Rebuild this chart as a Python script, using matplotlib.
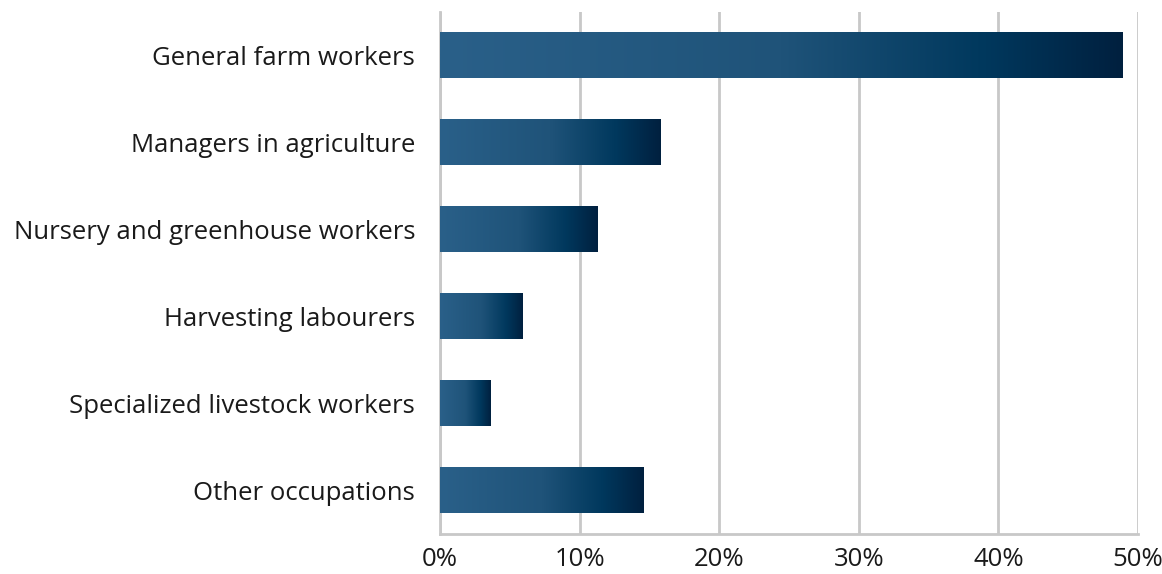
import numpy as np
import matplotlib.pyplot as plt
from matplotlib.colors import LinearSegmentedColormap
from matplotlib.ticker import FuncFormatter

plt.rcParams['font.family'] = ['Open Sans', 'DejaVu Sans']

occupations = ['General farm workers', 'Managers in agriculture',
               'Nursery and greenhouse workers', 'Harvesting labourers',
               'Specialized livestock workers', 'Other occupations']
shares = [48.9, 15.8, 11.3, 5.9, 3.65, 14.6]

cmap = LinearSegmentedColormap.from_list(
    'bar', [(0.0, '#2a6089'), (0.5, '#1f5379'), (0.8, '#00385d'), (1.0, '#00203f')])

fig = plt.figure(figsize=(11.62, 5.74), dpi=100)
ax = fig.add_axes([440 / 1162, 40 / 574, 698 / 1162, 522 / 574])

y = np.arange(len(occupations))
h = 0.52
grad = np.linspace(0, 1, 256).reshape(1, -1)
for yi, v in zip(y, shares):
    ax.imshow(grad, cmap=cmap, aspect='auto', extent=[0, v, yi + h / 2, yi - h / 2],
              interpolation='bilinear', zorder=3)

ax.set_xlim(0, 50)
ax.set_ylim(len(occupations) - 0.5, -0.5)
ax.set_xticks(np.arange(0, 51, 10))
ax.xaxis.set_major_formatter(FuncFormatter(lambda v, p: f'{v:.0f}%'))
ax.set_yticks(y)
ax.set_yticklabels(occupations)
ax.tick_params(axis='both', length=0, labelsize=18.5, colors='#1a1a1a')
ax.tick_params(axis='y', pad=18)
ax.tick_params(axis='x', pad=9)

ax.grid(axis='x', color='#c8c8c8', linewidth=2, zorder=0)
for s in ['top', 'right']:
    ax.spines[s].set_visible(False)
for s in ['left', 'bottom']:
    ax.spines[s].set_color('#c8c8c8')
    ax.spines[s].set_linewidth(2)

plt.savefig('out.png', dpi=100)
